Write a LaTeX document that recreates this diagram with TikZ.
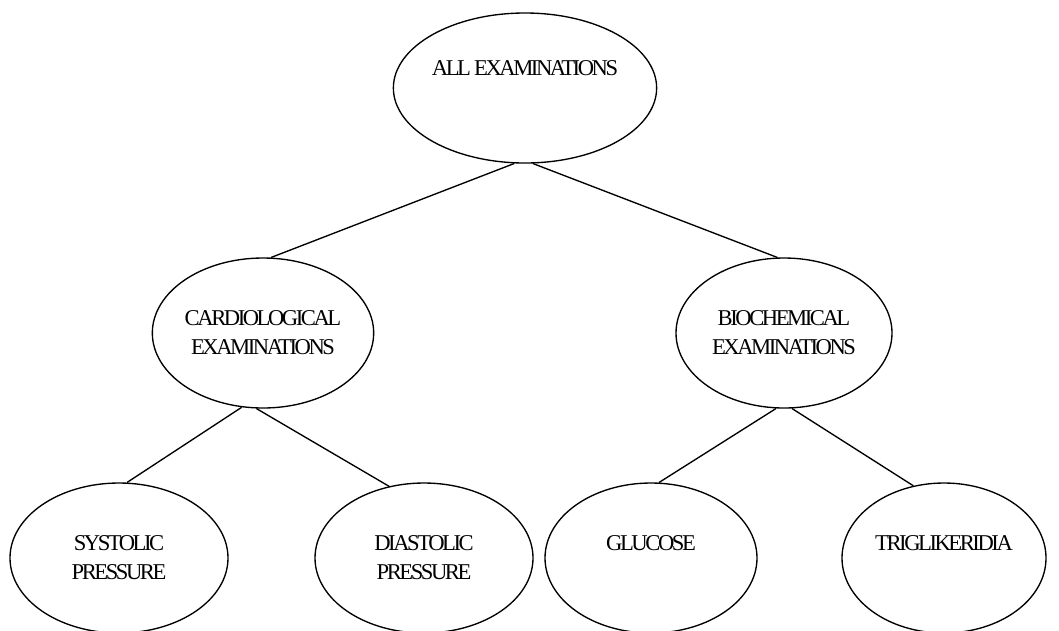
\documentclass[tikz,border=0pt]{standalone}
\usepackage{fontspec}
\setmainfont{Liberation Serif}[LetterSpace=-10.8]
\usetikzlibrary{shapes.geometric}
\begin{document}
\begin{tikzpicture}[x=1pt,y=-1pt,
  exam/.style={draw, ellipse, line width=1.35pt, inner sep=0pt,
    minimum height=150pt, align=center,
    font=\fontsize{22.6}{29}\selectfont},
  link/.style={line width=1.35pt}]
\path[use as bounding box, fill=white] (0,0) rectangle (1059,630);

% examination tree
\node[exam, minimum width=220pt] (all)    at (525,88)  {ALL EXAMINATIONS\\[11pt]~};
\node[exam, minimum width=220pt] (cardio) at (263,333) {CARDIOLOGICAL\\EXAMINATIONS};
\node[exam, minimum width=216pt] (bio)    at (784,333) {BIOCHEMICAL\\EXAMINATIONS};
\node[exam, minimum width=218pt] (sys)    at (119,558) {SYSTOLIC\\PRESSURE};
\node[exam, minimum width=218pt] (dia)    at (424,558) {DIASTOLIC\\PRESSURE};
\node[exam, minimum width=212pt] (glu)    at (651,558) {GLUCOSE\\~};
\node[exam, minimum width=204pt] (tri)    at (944,558) {TRIGLIKERIDIA\\~};

% branches
\draw[link] (all.262.5)   -- (cardio.84.7);
\draw[link] (all.276)     -- (bio.95.3);
\draw[link] (cardio.254.4) -- (sys.84);
\draw[link] (cardio.265.4) -- (dia.116);
\draw[link] (bio.264.7)   -- (glu.84.7);
\draw[link] (bio.276.8)   -- (tri.113.7);
\end{tikzpicture}
\end{document}
